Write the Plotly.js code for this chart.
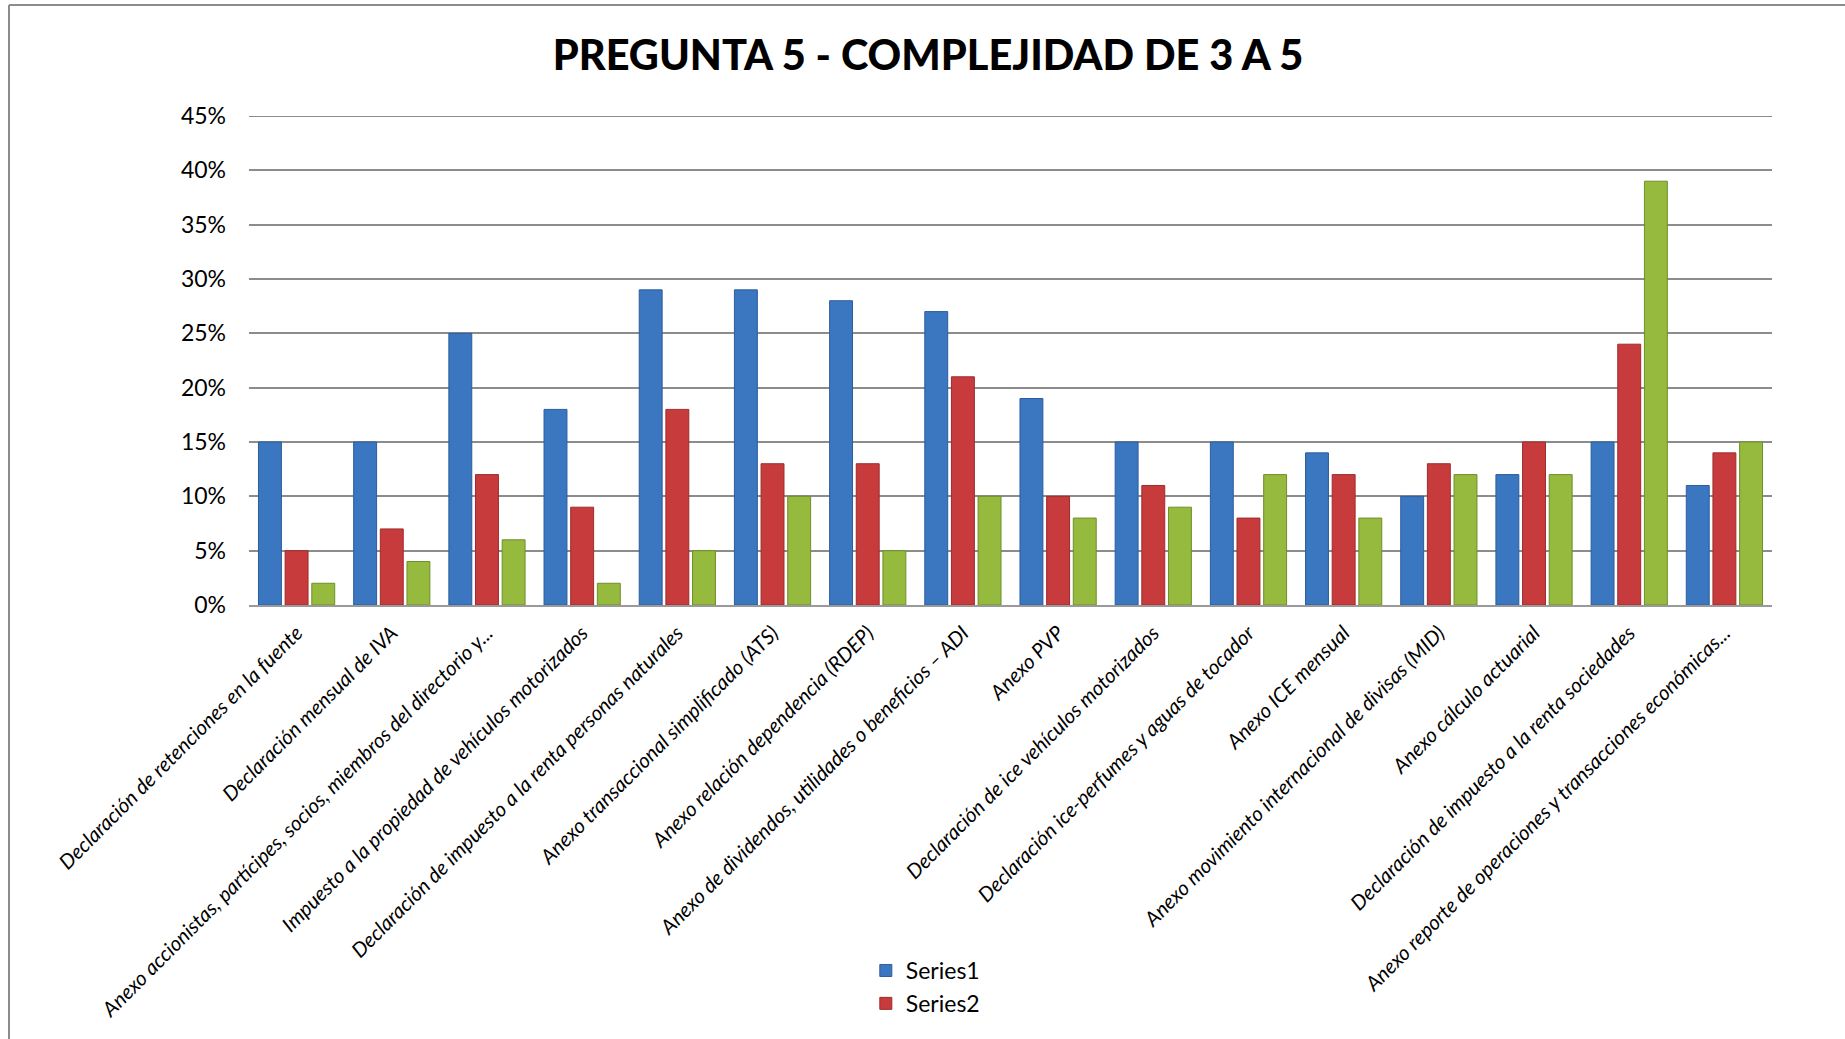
<!DOCTYPE html>
<html>
<head>
<meta charset="utf-8">
<script src="https://cdn.plot.ly/plotly-3.0.1.min.js"></script>
<style>
  html, body { margin: 0; padding: 0; background: #ffffff; }
  #chart { width: 1845px; height: 1039px; }
</style>
</head>
<body>
<div id="chart"></div>
<script>
const categories = [
  "Declaración de retenciones en la fuente",
  "Declaración mensual de IVA",
  "Anexo accionistas, partícipes, socios, miembros del directorio y...",
  "Impuesto a la propiedad de vehículos motorizados",
  "Declaración de impuesto a la renta personas naturales",
  "Anexo transaccional simplificado (ATS)",
  "Anexo relación dependencia (RDEP)",
  "Anexo de dividendos, utilidades o beneficios – ADI",
  "Anexo PVP",
  "Declaración de ice vehículos motorizados",
  "Declaración ice-perfumes y aguas de tocador",
  "Anexo ICE mensual",
  "Anexo movimiento internacional de divisas (MID)",
  "Anexo cálculo actuarial",
  "Declaración de impuesto a la renta sociedades",
  "Anexo reporte de operaciones y transacciones económicas..."
];
const series1 = [0.15, 0.15, 0.25, 0.18, 0.29, 0.29, 0.28, 0.27, 0.19, 0.15, 0.15, 0.14, 0.10, 0.12, 0.15, 0.11];
const series2 = [0.05, 0.07, 0.12, 0.09, 0.18, 0.13, 0.13, 0.21, 0.10, 0.11, 0.08, 0.12, 0.13, 0.15, 0.24, 0.14];
const series3 = [0.02, 0.04, 0.06, 0.02, 0.05, 0.10, 0.05, 0.10, 0.08, 0.09, 0.12, 0.08, 0.12, 0.12, 0.39, 0.15];
const seriesNames = ["Series1", "Series2", "Series3"];
const tickVals = [0, 0.05, 0.10, 0.15, 0.20, 0.25, 0.30, 0.35, 0.40, 0.45];
const tickText = ["0%", "5%", "10%", "15%", "20%", "25%", "30%", "35%", "40%", "45%"];
const yMax = 0.45;

const FONT = "Lato, 'Open Sans', sans-serif";

function barTrace(y, name, color, line, showLegend) {
  return {
    type: "bar",
    x: categories,
    y: y,
    name: name,
    showlegend: showLegend,
    marker: { color: color, line: { color: line, width: 1 } },
    hoverinfo: "x+y+name"
  };
}

const data = [
  barTrace(series1, seriesNames[0], "#3b76c1", "#2c5d9c", true),
  barTrace(series2, seriesNames[1], "#c73b3c", "#9e2c2d", true),
  barTrace(series3, seriesNames[2], "#95ba3d", "#6f8f2a", false)
];

const layout = {
  width: 1845,
  height: 1039,
  paper_bgcolor: "#ffffff",
  plot_bgcolor: "#ffffff",
  margin: { l: 249, r: 73, t: 116, b: 434, pad: 0 },
  barmode: "group",
  bargap: 0.16,
  bargroupgap: 0.14,
  title: {
    text: "PREGUNTA 5 - COMPLEJIDAD DE 3 A 5",
    font: { family: FONT, size: 41.5, color: "#000000", weight: 900 },
    xref: "container",
    x: 0.503, xanchor: "center",
    y: 0.947, yanchor: "middle"
  },
  font: { family: FONT, color: "#000000" },
  xaxis: {
    type: "category",
    tickangle: -45,
    tickfont: { family: FONT, size: 20.5, color: "#000000", style: "italic" },
    showgrid: false,
    showline: true,
    linecolor: "#9a9a9a",
    linewidth: 2,
    ticks: "outside",
    ticklen: 6,
    tickcolor: "rgba(0,0,0,0)",
    automargin: false,
    fixedrange: true
  },
  yaxis: {
    range: [0, yMax],
    tickvals: tickVals,
    ticktext: tickText,
    tickfont: { family: FONT, size: 23, color: "#000000" },
    showgrid: true,
    gridcolor: "#8c8c8c",
    gridwidth: 2,
    zeroline: false,
    showline: false,
    ticks: "",
    ticklabelstandoff: 22,
    automargin: false,
    fixedrange: true
  },
  legend: {
    orientation: "v",
    xref: "paper", yref: "container",
    x: 0.405, xanchor: "left",
    y: 0.0866, yanchor: "top",
    font: { family: FONT, size: 23, color: "#000000" },
    itemwidth: 30,
    tracegroupgap: 0,
    bgcolor: "rgba(0,0,0,0)"
  },
  shapes: [
    { type: "line", xref: "paper", yref: "y",
      x0: 0, x1: 1, y0: yMax, y1: yMax,
      line: { color: "#8c8c8c", width: 2 } },
    { type: "line", xref: "paper", yref: "paper",
      x0: (9 - 249) / 1523, x1: (9 - 249) / 1523, y0: (605 - 5) / 489, y1: (605 - 1039) / 489,
      line: { color: "#8c8c8c", width: 2 } },
    { type: "line", xref: "paper", yref: "paper",
      x0: (9 - 249) / 1523, x1: (1845 - 249) / 1523, y0: (605 - 5) / 489, y1: (605 - 5) / 489,
      line: { color: "#8c8c8c", width: 2 } }
  ]
};

Plotly.newPlot("chart", data, layout, { displayModeBar: false, staticPlot: true });
</script>
</body>
</html>
